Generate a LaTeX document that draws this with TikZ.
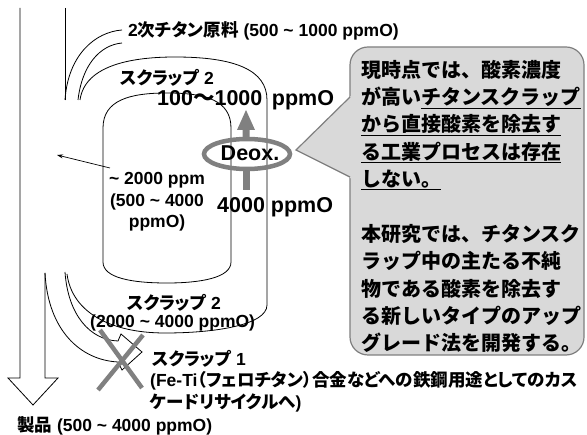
\documentclass[tikz,border=0pt]{standalone}
\usepackage{fontspec}
\setmainfont{Liberation Sans}
\newfontfamily\jp{Noto Sans CJK JP}[RawFeature=+palt]
\newfontfamily\jpf{Noto Sans CJK JP}
\newcommand\tld{{\char"7E}}
\usetikzlibrary{arrows.meta}
\definecolor{bubble}{HTML}{D9D9D9}
\definecolor{bubbleedge}{HTML}{7F7F7F}
\definecolor{deoxgray}{HTML}{808080}
\begin{document}
\begin{tikzpicture}[x=1pt,y=-1pt,
  line/.style={draw=black, line width=0.8pt},
  lbl/.style={inner sep=0pt, anchor=west, font=\fontsize{17.5}{21.5}\selectfont\bfseries},
  big/.style={inner sep=0pt, anchor=west, font=\fontsize{21.5}{24}\selectfont\bfseries},
  ctext/.style={inner sep=0pt, anchor=west, font=\jpf\fontsize{20}{24}\selectfont\bfseries},
  grayline/.style={draw=deoxgray, line width=4.5pt},
  ]
\useasboundingbox (0,0) rectangle (587,435);
\fill[white] (0,0) rectangle (587,435);

% big downward arrow (product flow)
\draw[line] (20,8) -- (20,378) -- (8,378) -- (33,405) -- (58,378) -- (45,378) -- (45,273);
\draw[line] (65,8) -- (65,100);

% secondary raw material brackets
\draw[line] (65,100) .. controls (68,55) and (95,32) .. (122,30);
\draw[line] (78,100) .. controls (82,65) and (100,45) .. (122,43);

% outer loop (scrap 2)
\draw[line] (80,100) .. controls (85,64) and (135,57) .. (175,57)
  .. controls (235,57) and (267,70) .. (267,100) -- (267,305)
  .. controls (267,325) and (215,333) .. (165,333)
  .. controls (110,333) and (72,312) .. (67,274);

% inner loop
\draw[line] (103,128) .. controls (103,100) and (130,93) .. (167,93)
  .. controls (205,93) and (231,100) .. (231,128) -- (231,262)
  .. controls (231,278) and (200,283) .. (167,283)
  .. controls (132,283) and (103,278) .. (103,262) -- cycle;

% scrap 1 block arrow (crossed out)
\draw[line] (45,273) .. controls (48,330) and (80,360) .. (118,362)
  -- (122,370) -- (142,352) -- (121,334) -- (118,341)
  .. controls (90,340) and (68,315) .. (65,272);
\draw[grayline] (100,330) -- (142,388);
\draw[grayline] (143,335) -- (98,390);

% small arrow
\draw[-{Stealth[length=6pt,width=4pt]}, line width=0.7pt] (110,168) -- (57,155);

% Deox arrow and ellipse
\fill[deoxgray] (242.5,190) rectangle (249.5,170);
\fill[deoxgray] (242.5,138) -- (242.5,130) -- (237,130) -- (246,110) -- (255,130) -- (249.5,130) -- (249.5,138) -- cycle;
\draw[deoxgray, line width=4.5pt] (247,154) ellipse [x radius=43, y radius=15];
\node[inner sep=0pt, font=\fontsize{21.5}{24}\selectfont\bfseries] (deox) at (250,153) {Deox.};

% callout
\draw[fill=bubble, draw=bubbleedge, line width=1.2pt, rounded corners=18pt] (350,47) rectangle (584,355);
\fill[bubble] (296,150) -- (352,95) -- (352,179) -- cycle;
\draw[bubbleedge, line width=1.2pt] (350,97) -- (296,150) -- (350,177);

% callout text
\node[ctext] (c1) at (361,70) {現時点では、酸素濃度};
\node[ctext] (c2) at (361,97.5) {が高い\underline{チタンスクラップ}};
\node[ctext] (c3) at (361,125) {\underline{から直接酸素を除去す}};
\node[ctext] (c4) at (361,152.5) {\underline{る工業プロセスは存在}};
\node[ctext] (c5) at (361,180) {\underline{しない。}};
\node[ctext] (c7) at (361,234) {本研究では、チタンスク};
\node[ctext] (c8) at (361,261) {ラップ中の主たる不純};
\node[ctext] (c9) at (361,288.5) {物である酸素を除去す};
\node[ctext] (c10) at (361,316) {る新しいタイプのアップ};
\node[ctext] (c11) at (361,343) {グレード法を開発する。};

% labels
\node[lbl] (raw) at (128,31) {2{\jp 次チタン原料} (500 \tld{} 1000 ppmO)};
\node[lbl] (s2top) at (120,78) {{\jp スクラップ} 2};
\node[big] (hi) at (157,100) {100{\jpf ～}1000\, ppmO};
\node[big] (lo) at (217,207) {4000 ppmO};
\node[inner sep=0pt, align=center, font=\fontsize{17.5}{21.5}\selectfont\bfseries] (mid) at (157,202)
  {\tld{} 2000 ppm\\(500 \tld{} 4000\\ppmO)};
\node[lbl] (s2bot) at (127,303) {{\jp スクラップ} 2};
\node[lbl] (s2ppm) at (90,323) {(2000 \tld{} 4000 ppmO)};
\node[lbl, align=left, anchor=north west] (s1) at (150,350)
  {\hspace*{2pt}{\jp スクラップ} 1\\(Fe-Ti{\jp （フェロチタン）合金などへの鉄鋼用途としてのカス}\\{\jp ケードリサイクルへ})};
\node[lbl] (prod) at (17,426) {{\jp 製品} (500 \tld{} 4000 ppmO)};
\end{tikzpicture}
\end{document}
